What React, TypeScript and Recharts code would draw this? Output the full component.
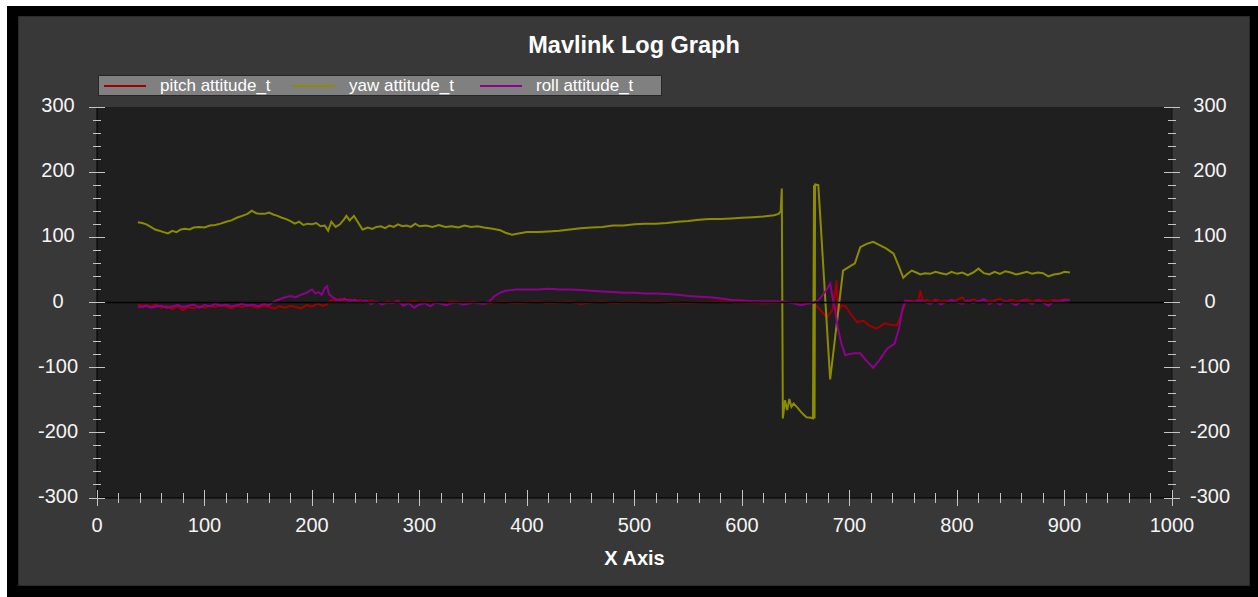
import { LineChart, Line, XAxis, YAxis, CartesianGrid, ReferenceLine, Legend } from "recharts";

// [x, value] pairs
const pitch: [number, number][] = [
  [38, -3], [42, -5], [46, -4], [50, -6], [55, -3], [60, -8], [65, -5], [70, -10], [75, -6], [80, -12],
  [85, -7], [90, -9], [95, -6], [100, -8], [105, -5], [110, -7], [115, -4], [120, -6], [125, -9], [130, -5],
  [135, -7], [140, -4], [145, -6], [150, -8], [155, -5], [160, -7], [165, -9], [170, -6], [175, -8], [180, -5],
  [185, -7], [190, -9], [195, -4], [200, -6], [205, -2], [210, -5], [214, -3], [218, 4], [222, 3], [226, 6],
  [230, 2], [235, 5], [240, 1], [245, 4], [250, 0], [255, 3], [260, 1], [265, -1], [270, 2], [275, 0],
  [280, 3], [285, -1], [290, 1], [295, 2], [300, 0], [310, 1], [320, -1], [330, 2], [340, 0], [350, 1],
  [360, -2], [370, 0], [380, 1], [390, -1], [400, 0], [410, 1], [420, -1], [430, 0], [440, 1], [450, -2],
  [460, 0], [470, 1], [480, -1], [490, 0], [500, 0], [520, 1], [540, -1], [560, 0], [580, 1], [600, 0],
  [620, -1], [640, 0], [660, 0], [666, 0], [672, -10], [679, -23], [684, -12], [686, 10], [688, 34], [689, -17],
  [692, -5], [696, -5], [700, -15], [707, -30], [713, -28], [718, -35], [725, -40], [730, -35], [733, -32], [738, -34],
  [744, -35], [748, -20], [752, 0], [756, 3], [760, 2], [764, 4], [766, 18], [768, 2], [772, 4], [776, 1],
  [780, 5], [785, 2], [790, 3], [795, 0], [800, 4], [805, 8], [808, 2], [812, 3], [816, 5], [820, 1],
  [825, 4], [830, 2], [835, 3], [840, 6], [845, 1], [850, 4], [855, 2], [860, 3], [865, 5], [870, 1],
  [875, 4], [880, 3], [885, 2], [890, 4], [895, 3], [900, 5], [905, 3],
];

const yaw: [number, number][] = [
  [38, 123], [42, 122], [46, 120], [50, 116], [54, 112], [58, 110], [62, 108], [66, 106], [70, 110], [74, 108],
  [78, 112], [82, 113], [86, 112], [90, 115], [95, 116], [100, 115], [105, 118], [110, 119], [115, 121], [120, 124],
  [125, 126], [130, 130], [135, 133], [140, 136], [144, 141], [148, 137], [152, 136], [156, 136], [160, 138], [164, 135],
  [168, 133], [172, 130], [176, 128], [180, 125], [184, 121], [188, 124], [192, 119], [196, 121], [200, 120], [204, 122],
  [208, 117], [212, 118], [215, 110], [218, 124], [222, 116], [226, 120], [230, 128], [232, 133], [235, 126], [239, 133],
  [242, 125], [247, 112], [252, 115], [256, 113], [260, 116], [264, 117], [268, 114], [272, 118], [276, 116], [280, 120],
  [284, 117], [288, 118], [292, 116], [296, 121], [300, 117], [306, 118], [312, 116], [318, 119], [324, 116], [330, 117],
  [336, 115], [342, 118], [348, 116], [354, 117], [360, 115], [368, 113], [375, 111], [380, 107], [386, 104], [392, 106],
  [400, 108], [410, 108], [420, 109], [430, 110], [440, 112], [450, 114], [460, 115], [470, 116], [480, 118], [490, 118],
  [500, 120], [510, 121], [520, 121], [530, 122], [540, 124], [550, 125], [560, 127], [570, 128], [580, 128], [590, 129],
  [600, 130], [610, 131], [620, 132], [630, 134], [634, 136], [636, 140],
  [637, 175], [638, -178], [640, -150], [642, -165], [644, -148], [646, -160], [648, -155], [652, -162], [656, -170], [660, -176],
  [664, -177], [666, -178], [667, 180], [667.5, -178], [668, 181], [671, 180], [682, -118], [694, 49], [700, 55], [705, 60],
  [710, 85], [716, 90], [722, 93], [728, 88], [734, 83], [741, 75], [746, 55], [750, 38], [754, 44], [758, 49],
  [762, 46], [766, 43], [770, 45], [775, 44], [780, 47], [785, 45], [790, 43], [795, 47], [800, 44], [805, 46],
  [810, 42], [815, 46], [820, 52], [825, 45], [830, 43], [835, 47], [840, 44], [845, 48], [850, 46], [855, 43],
  [860, 45], [865, 47], [870, 44], [875, 46], [880, 45], [885, 40], [890, 43], [895, 44], [900, 47], [905, 46],
];

const roll: [number, number][] = [
  [38, -6], [42, -7], [46, -5], [50, -8], [55, -6], [60, -5], [65, -8], [70, -6], [75, -4], [80, -7],
  [85, -5], [90, -3], [95, -8], [100, -4], [105, -6], [110, -2], [115, -5], [120, -3], [125, -6], [130, -4],
  [135, -2], [140, -5], [145, -3], [150, -6], [155, -2], [160, -4], [165, 2], [170, 5], [175, 8], [180, 10],
  [185, 8], [190, 12], [195, 15], [200, 20], [203, 14], [206, 16], [209, 12], [212, 22], [214, 25], [216, 12],
  [218, 10], [222, 5], [226, 3], [230, 6], [235, 2], [240, 4], [245, 0], [250, 3], [255, -2], [260, 1],
  [265, -3], [270, 0], [275, -1], [280, 2], [285, -5], [290, -1], [295, -8], [300, -3], [305, -1], [310, -6],
  [315, 0], [320, -2], [325, -4], [330, -1], [335, 0], [340, -3], [345, -2], [350, 0], [355, -1], [360, -2],
  [365, 2], [370, 10], [375, 15], [380, 18], [385, 19], [390, 20], [400, 20], [410, 20], [420, 21], [430, 20],
  [440, 20], [450, 19], [460, 18], [470, 17], [480, 16], [490, 15], [500, 15], [510, 14], [520, 14], [530, 13],
  [540, 12], [550, 10], [560, 9], [570, 8], [580, 6], [590, 4], [600, 3], [610, 2], [620, 2], [630, 2],
  [640, 1], [650, -2], [655, -4], [660, -2], [666, -1], [672, 5], [678, 18], [682, 29], [684, 10], [686, -5],
  [689, -38], [692, -60], [696, -81], [700, -79], [705, -78], [710, -78], [715, -88], [722, -100], [728, -88], [735, -71],
  [742, -63], [746, -40], [749, -12], [752, 3], [756, 2], [760, 0], [765, 3], [770, 1], [775, -2], [780, 2],
  [785, -3], [790, 1], [795, 4], [800, 0], [805, -2], [810, 3], [815, -1], [820, 2], [825, 5], [830, -2],
  [835, 1], [840, -3], [845, 2], [850, 0], [855, -4], [860, 2], [865, 1], [870, -2], [875, 3], [880, 0],
  [885, -5], [890, 2], [895, 1], [900, 3], [905, 4],
];

const seriesNames = ["pitch attitude_t", "yaw attitude_t", "roll attitude_t"];
const seriesColors = ["#a00000", "#8c8c00", "#900090"];
const seriesData = [pitch, yaw, roll].map((s) => s.map(([x, v]) => ({ x, v })));

const xTicks = Array.from({ length: 51 }, (_, i) => i * 20);
const yTicks = Array.from({ length: 31 }, (_, i) => -300 + i * 20);

const FONT = "'Liberation Sans', Arial, sans-serif";
const TICK = "#c4c4c4";
const LABEL = "#f4f4f4";

const isMajor = (v: number) => v % 100 === 0;

function BottomTick({ x, y, payload }: any) {
  const h = isMajor(payload.value) ? 8 : 5;
  return (
    <g>
      <line x1={x} x2={x} y1={y - h} y2={y + h} stroke={TICK} shapeRendering="crispEdges" />
      {isMajor(payload.value) && (
        <text x={x} y={y + 34} textAnchor="middle" fill={LABEL} fontSize={20} fontFamily={FONT}>
          {payload.value}
        </text>
      )}
    </g>
  );
}

function TopTick({ x, y, payload }: any) {
  const h = isMajor(payload.value) ? 8 : 4;
  return <line x1={x} x2={x} y1={y} y2={y + h} stroke={TICK} shapeRendering="crispEdges" />;
}

function LeftTick({ x, y, payload }: any) {
  const h = isMajor(payload.value) ? 8 : 4;
  return (
    <g>
      <line x1={x - h} x2={x + h} y1={y} y2={y} stroke={TICK} shapeRendering="crispEdges" />
      {isMajor(payload.value) && (
        <text x={x - 39} y={y + 5} textAnchor="middle" fill={LABEL} fontSize={20} fontFamily={FONT}>
          {payload.value}
        </text>
      )}
    </g>
  );
}

function RightTick({ x, y, payload }: any) {
  const h = isMajor(payload.value) ? 8 : 4;
  return (
    <g>
      <line x1={x - h} x2={x + h} y1={y} y2={y} stroke={TICK} shapeRendering="crispEdges" />
      {isMajor(payload.value) && (
        <text x={x + 38} y={y + 5} textAnchor="middle" fill={LABEL} fontSize={20} fontFamily={FONT}>
          {payload.value}
        </text>
      )}
    </g>
  );
}

function LegendBox() {
  const offsets = [5, 194, 381];
  return (
    <div style={{ position: "relative", width: 564, height: 21, background: "#808080", border: "1px solid #262626", boxSizing: "border-box" }}>
      {seriesNames.map((name, i) => (
        <div key={name} style={{ position: "absolute", left: offsets[i], top: 0, height: 19, display: "flex", alignItems: "center" }}>
          <div style={{ width: 42, height: 2, background: seriesColors[i], marginRight: 14 }} />
          <span style={{ color: "#ffffff", fontSize: 17, fontFamily: FONT, lineHeight: "19px", whiteSpace: "nowrap" }}>{name}</span>
        </div>
      ))}
    </div>
  );
}

export default function App() {
  return (
    <div style={{ position: "absolute", left: 0, top: 0, width: 1258, height: 597, background: "#ffffff" }}>
      <div style={{ position: "absolute", left: 7, top: 6, width: 1251, height: 591, background: "#000000" }}>
        <div style={{ position: "absolute", left: 12, top: 11, width: 1230, height: 568, background: "#383838", boxShadow: "0 0 0 1px #2a2a2a" }}>
          <div
            style={{
              position: "absolute", left: 0, top: 15, width: 1230, textAlign: "center",
              color: "#ffffff", fontFamily: FONT, fontWeight: "bold", fontSize: 23.5, lineHeight: "26px",
            }}
          >
            Mavlink Log Graph
          </div>
          <div style={{ position: "absolute", left: 0, top: 0 }}>
            <LineChart width={1230} height={568} margin={{ top: 90, right: 0, bottom: 0, left: 0 }}>
              <CartesianGrid horizontal={false} vertical={false} fill="#1f1f1f" />
              <XAxis
                dataKey="x" type="number" domain={[0, 1000]} ticks={xTicks} interval={0} allowDataOverflow
                height={87} tickSize={0} tickMargin={0} tickLine={false} axisLine={{ stroke: "#000000" }} tick={BottomTick}
                label={{ value: "X Axis", position: "insideBottom", offset: 20, fill: "#ffffff", fontSize: 20, fontWeight: "bold", fontFamily: FONT }}
              />
              <XAxis
                xAxisId="top" orientation="top" type="number" domain={[0, 1000]} ticks={xTicks} interval={0} allowDataOverflow
                height={0} tickSize={0} tickMargin={0} tickLine={false} axisLine={{ stroke: "#111111" }} tick={TopTick}
              />
              <YAxis
                type="number" domain={[-300, 300]} ticks={yTicks} interval={0} allowDataOverflow
                width={78} tickSize={0} tickMargin={0} tickLine={false} axisLine={{ stroke: "#000000" }} tick={LeftTick}
              />
              <YAxis
                yAxisId="right" orientation="right" type="number" domain={[-300, 300]} ticks={yTicks} interval={0} allowDataOverflow
                width={77} tickSize={0} tickMargin={0} tickLine={false} axisLine={{ stroke: "#111111" }} tick={RightTick}
              />
              <Legend
                layout="horizontal" verticalAlign="middle" align="center"
                wrapperStyle={{ top: 58, left: 79, width: 564, height: 21 }}
                content={() => <LegendBox />}
              />
              {seriesData.map((d, i) => (
                <Line
                  key={seriesNames[i]} data={d} dataKey="v" name={seriesNames[i]} type="linear"
                  stroke={seriesColors[i]} strokeWidth={2} dot={false} isAnimationActive={false}
                />
              ))}
              <ReferenceLine y={0} stroke="#000000" strokeWidth={1.5} />
            </LineChart>
          </div>
        </div>
      </div>
    </div>
  );
}
